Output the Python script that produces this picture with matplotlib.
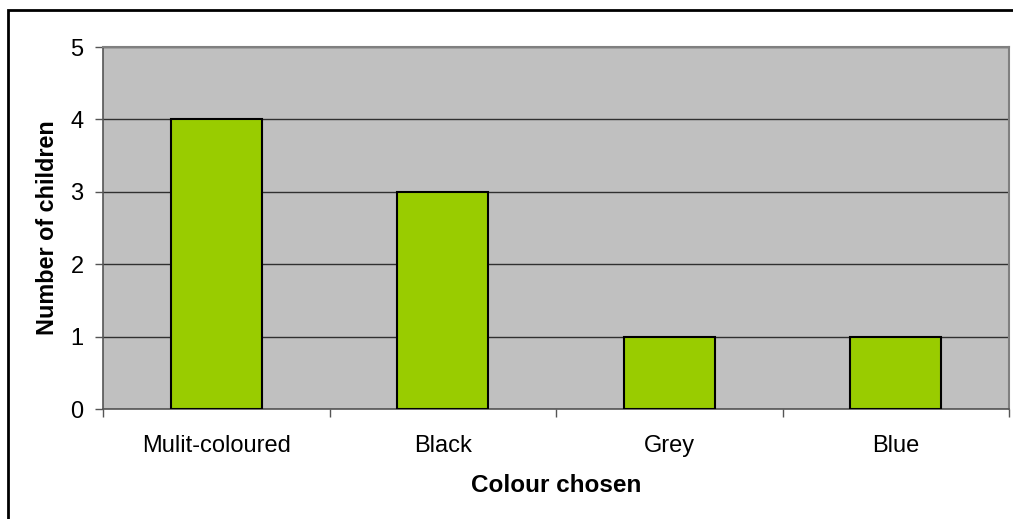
import matplotlib
matplotlib.use("Agg")
import matplotlib.pyplot as plt
from matplotlib.patches import Rectangle

categories = ["Mulit-coloured", "Black", "Grey", "Blue"]
counts = [4, 3, 1, 1]
yticks = [0, 1, 2, 3, 4, 5]

plt.rcParams['font.family'] = ['Liberation Sans', 'DejaVu Sans']

W, H = 1013, 519
fig = plt.figure(figsize=(W / 100, H / 100), dpi=100)
ax = fig.add_axes([103 / W, 1 - 409 / H, (1009 - 103) / W, (409 - 47) / H])
ax.set_facecolor('#C0C0C0')

x = list(range(len(categories)))
ax.bar(x, counts, width=0.4, color='#99CC00', edgecolor='black', linewidth=1.5, zorder=3)

ax.set_xlim(-0.5, len(categories) - 0.5)
ax.set_ylim(0, 5)
ax.set_yticks(yticks)
ax.yaxis.grid(True, color='#303030', linewidth=1.0, zorder=1)
ax.set_axisbelow(True)

ax.set_xticks(x)
ax.set_xticklabels(categories, fontsize=17)
ax.tick_params(axis='x', which='major', length=0, pad=19)
ax.set_xticks([i - 0.5 for i in range(len(categories) + 1)], minor=True)
ax.tick_params(axis='x', which='minor', length=6, color='#555555', width=1)
ax.tick_params(axis='y', length=6, color='#555555', width=1, labelsize=17, pad=8)

for s in ['top', 'right']:
    ax.spines[s].set_color('#808080')
    ax.spines[s].set_linewidth(1.5)
for s in ['left', 'bottom']:
    ax.spines[s].set_color('#555555')
    ax.spines[s].set_linewidth(1.2)

ax.set_xlabel('Colour chosen', fontsize=17.5, fontweight='bold')
ax.set_ylabel('Number of children', fontsize=16.8, fontweight='bold')
ax.xaxis.set_label_coords(556 / W, 1 - 485 / H, transform=fig.transFigure)
ax.xaxis.label.set_va('center')
ax.yaxis.set_label_coords(47 / W, 1 - 228 / H, transform=fig.transFigure)
ax.yaxis.label.set_va('center')

fig.patches.append(Rectangle((8 / W, -0.1), 1.2, 1 - 10 / H + 0.1, transform=fig.transFigure,
                             fill=False, edgecolor='black', linewidth=2))

fig.savefig('out.png', dpi=100, facecolor='white')
